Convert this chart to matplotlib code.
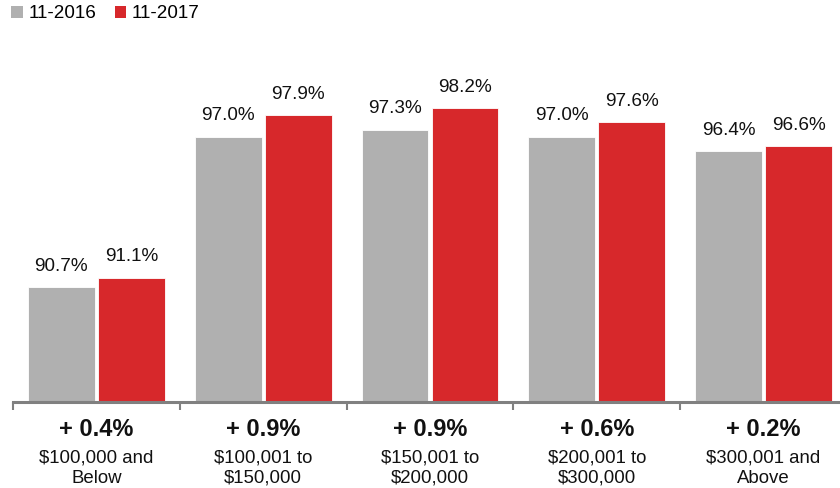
import matplotlib.pyplot as plt
from matplotlib.patches import Patch
import numpy as np

categories = ["$100,000 and\nBelow", "$100,001 to\n$150,000", "$150,001 to\n$200,000",
              "$200,001 to\n$300,000", "$300,001 and\nAbove"]
series_names = ["11-2016", "11-2017"]
values_2016 = [90.7, 97.0, 97.3, 97.0, 96.4]
values_2017 = [91.1, 97.9, 98.2, 97.6, 96.6]
changes = ["+ 0.4%", "+ 0.9%", "+ 0.9%", "+ 0.6%", "+ 0.2%"]

GREY = "#b0b0b0"
RED = "#d7282b"
AXIS = "#808080"

plt.rcParams['font.family'] = ['Liberation Sans', 'DejaVu Sans']

fig = plt.figure(figsize=(8.4, 4.88), dpi=100)
W, H = 840, 488
left, right, bottom, top = 13, 847, 402, 40
ax = fig.add_axes([left / W, (H - bottom) / H, (right - left) / W, (bottom - top) / H])

x = np.arange(len(categories))
bw = 0.40
off = 0.21
b1 = ax.bar(x - off, values_2016, bw, color=GREY, edgecolor="white", linewidth=0.6)
b2 = ax.bar(x + off, values_2017, bw, color=RED, edgecolor="white", linewidth=0.6)

ymin = 85.9
px_per_unit = 23.9
ax.set_ylim(ymin, ymin + (bottom - top) / px_per_unit)
ax.set_xlim(-0.5, len(categories) - 0.5)

for bars, vals in ((b1, values_2016), (b2, values_2017)):
    for rect, v in zip(bars, vals):
        ax.annotate(f"{v:.1f}%", (rect.get_x() + rect.get_width() / 2, v),
                    xytext=(0, 9), textcoords="offset points",
                    ha="center", va="bottom", fontsize=13.6, color="#111111")

for s in ("top", "right", "left"):
    ax.spines[s].set_visible(False)
ax.spines["bottom"].set_color(AXIS)
ax.spines["bottom"].set_linewidth(2.2)
ax.set_yticks([])
ax.set_xticks(np.arange(len(categories) + 1) - 0.5)
ax.set_xticklabels([])
ax.tick_params(axis="x", direction="out", length=6, width=1.5, color=AXIS)

for i, (cat, ch) in enumerate(zip(categories, changes)):
    ax.annotate(ch, (i, ymin), xytext=(0, -19.5), textcoords="offset points",
                ha="center", va="center", fontsize=17, fontweight="bold", color="#111111",
                annotation_clip=False)
    ax.annotate(cat, (i, ymin), xytext=(0, -34.5), textcoords="offset points",
                ha="center", va="top", fontsize=13.4, color="#111111",
                linespacing=1.2, annotation_clip=False)

handles = [Patch(facecolor=GREY), Patch(facecolor=RED)]
fig.legend(handles, series_names, loc="upper left", bbox_to_anchor=(0.0, 1.012),
           frameon=False, fontsize=13.6, ncol=2, handlelength=0.6, handleheight=0.6,
           handletextpad=0.3, columnspacing=1.0, borderaxespad=0.2)

fig.savefig("out.png", dpi=100)
